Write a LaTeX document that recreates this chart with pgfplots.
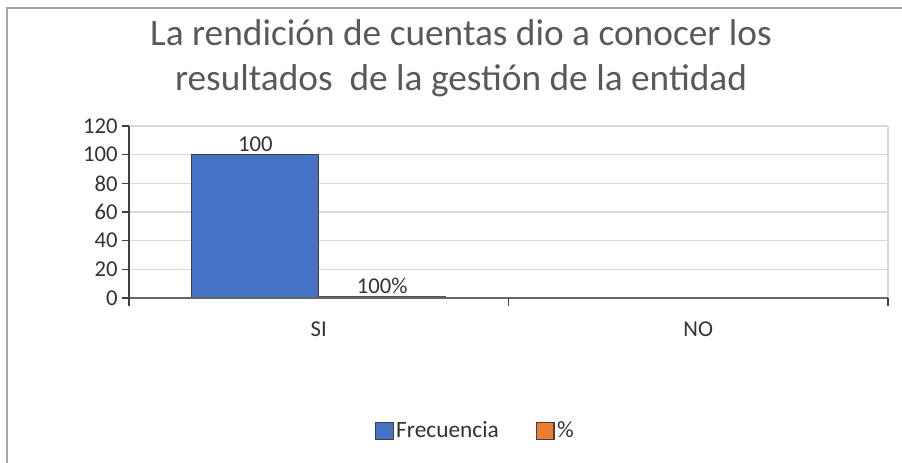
\documentclass[border=0pt]{standalone}
\usepackage{pgfplots}
\pgfplotsset{compat=1.18}
\usepackage{fontspec}
\setmainfont{Carlito}
\definecolor{cblue}{HTML}{4472C4}
\definecolor{corange}{HTML}{ED7D31}
\definecolor{ctitle}{HTML}{595959}
\definecolor{ctext}{HTML}{333333}
\definecolor{cgrid}{HTML}{D9D9D9}
\definecolor{caxis}{HTML}{404040}
\begin{document}
\begin{tikzpicture}
\useasboundingbox (-96.75pt,-123pt) rectangle (579.75pt,223.5pt);
\draw[color=gray!70, line width=1.5pt] (-91.5pt,-124pt) -- (-91.5pt,217.5pt) -- (581pt,217.5pt);
\begin{axis}[
  at={(0,0)}, anchor=south west,
  scale only axis, width=569.25pt, height=129pt,
  ybar=0pt, bar width=95.25pt,
  xmin=-0.5, xmax=1.5, ymin=0, ymax=120,
  xtick={0,1}, xticklabels={SI,NO},
  ytick={0,20,...,120},
  ymajorgrids, grid style={cgrid, line width=1.1pt},
  major x tick style={draw=none},
  y tick style={caxis, line width=0.9pt},
  major tick length=5pt,
  tick align=outside,
  xtick pos=bottom, ytick pos=left,
  axis line style={draw=none},
  ticklabel style={font=\fontsize{17}{20}\selectfont, text=ctext},
  x tick label style={yshift=-9pt},
  /pgf/number format/assume math mode=true,
  point meta=explicit symbolic,
  nodes near coords={\pgfplotspointmeta},
  nodes near coords style={font=\fontsize{17}{20}\selectfont, text=ctext, inner sep=1.5pt},
  legend columns=2,
  legend style={draw=none, at={(0.457,-0.773)}, anchor=center, font=\fontsize{17.5}{20}\selectfont, text=ctext,
    /tikz/every even column/.append style={column sep=26pt}},
  legend image code/.code={\draw[#1, draw=caxis, line width=0.8pt] (0pt,-6.5pt) rectangle (13pt,6.5pt);},
  clip=false,
]
\draw[cgrid, line width=1.1pt] (rel axis cs:1,0) -- (rel axis cs:1,1);
\addplot[fill=cblue, draw=caxis, line width=0.8pt] coordinates {(0,100) [100] (1,0) []};
\addlegendentry{Frecuencia}
\addplot[fill=corange, draw=caxis!80!corange, line width=0.8pt] coordinates {(0,1) [100\%] (1,0) []};
\addlegendentry{\%}
\draw[caxis, line width=0.9pt] (rel axis cs:0,0) -- (rel axis cs:0,1);
\draw[caxis!80, line width=1.1pt] (rel axis cs:0,0) -- (rel axis cs:1,0);
\draw[caxis, line width=0.9pt] (rel axis cs:0,0) -- ([yshift=-6pt]rel axis cs:0,0);
\draw[caxis, line width=0.9pt] (rel axis cs:0.5,0) -- ([yshift=-6pt]rel axis cs:0.5,0);
\draw[caxis, line width=0.9pt] (rel axis cs:1,0) -- ([yshift=-6pt]rel axis cs:1,0);
\end{axis}
\node[font=\fontsize{28}{34}\selectfont, text=ctitle, align=center] at (249pt,180pt) {La rendición de cuentas dio a conocer los\\resultados~ de la gestión de la entidad};
\end{tikzpicture}
\end{document}
